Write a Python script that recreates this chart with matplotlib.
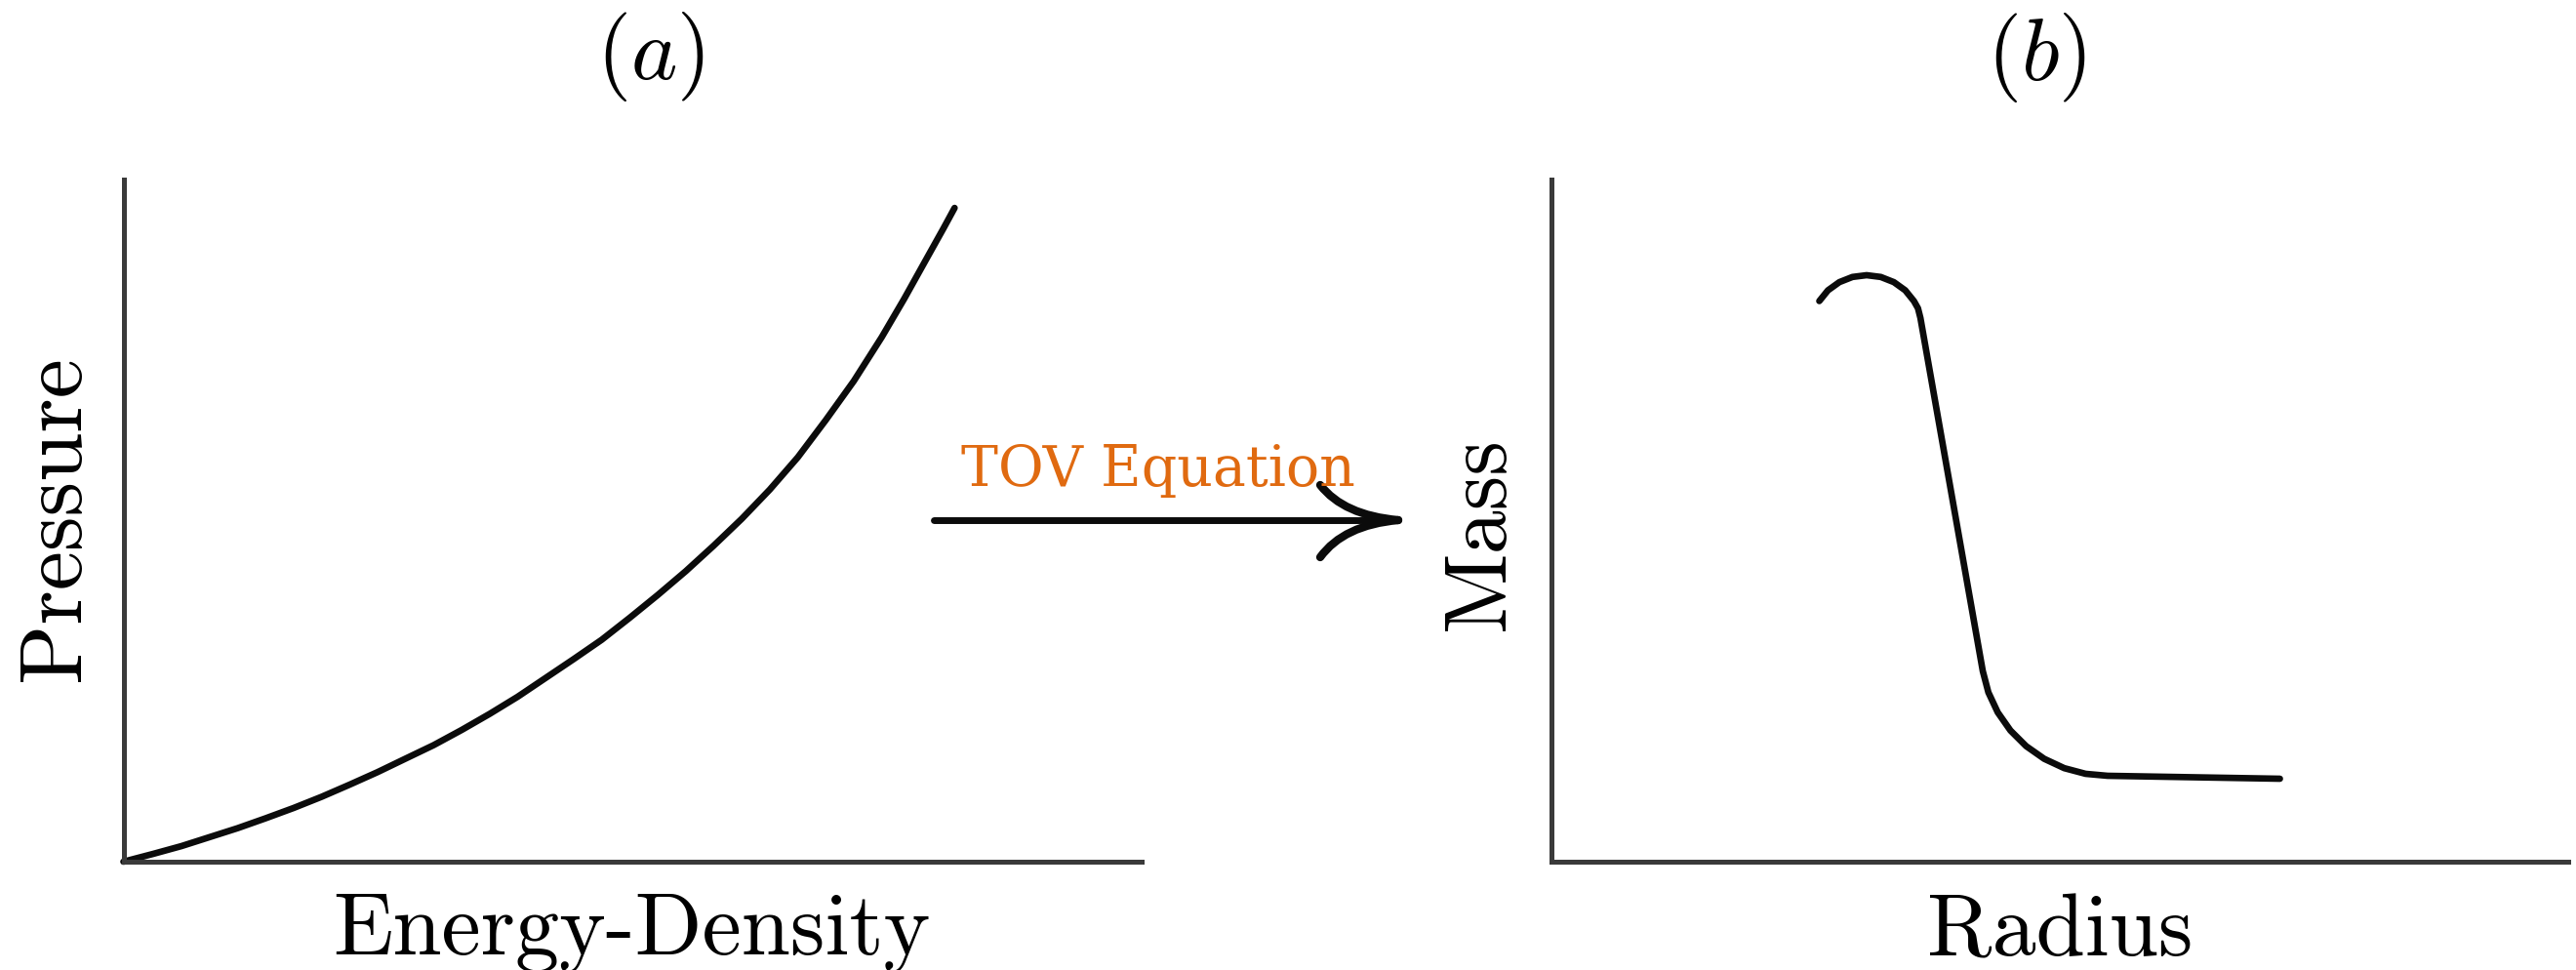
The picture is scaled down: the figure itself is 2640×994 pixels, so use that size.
import matplotlib
matplotlib.use("Agg")
import matplotlib.pyplot as plt
from matplotlib.lines import Line2D
from matplotlib.patches import PathPatch
from matplotlib.path import Path

plt.rcParams["font.family"] = "cmr10"
plt.rcParams["mathtext.fontset"] = "cm"
plt.rcParams["axes.unicode_minus"] = False

W, H = 2640, 994

# equation of state: pressure vs energy density (axes fraction units)
eos_x = [0.0, 0.0296, 0.0571, 0.0846, 0.1121, 0.1396, 0.1671, 0.1946,
         0.2221, 0.2496, 0.2771, 0.3046, 0.3322, 0.3597, 0.3872, 0.4147,
         0.4422, 0.4697, 0.4972, 0.5248, 0.5523, 0.5798, 0.6073, 0.6348,
         0.6623, 0.6898, 0.7173, 0.7448, 0.7667, 0.7888, 0.8053, 0.8163]
eos_y = [0.0, 0.0116, 0.0229, 0.0360, 0.0491, 0.0636, 0.0787, 0.0951,
         0.1129, 0.1313, 0.1511, 0.1708, 0.1931, 0.2167, 0.2418, 0.2694,
         0.2970, 0.3253, 0.3575, 0.3910, 0.4259, 0.4634, 0.5027, 0.5455,
         0.5928, 0.6474, 0.7046, 0.7691, 0.8249, 0.8841, 0.9282, 0.9584]

# mass-radius relation
mr_x = [0.2638, 0.2723, 0.2835, 0.2964, 0.3103, 0.3242, 0.3371, 0.3483,
        0.3568, 0.3608, 0.3632, 0.4245, 0.4300, 0.4392, 0.4517, 0.4671,
        0.4849, 0.5046, 0.5256, 0.5472, 0.7166]
mr_y = [0.8219, 0.8376, 0.8496, 0.8572, 0.8598, 0.8572, 0.8496, 0.8376,
        0.8219, 0.8113, 0.7971, 0.2795, 0.2482, 0.2189, 0.1923, 0.1694,
        0.1508, 0.1371, 0.1288, 0.1259, 0.1216]

panel_titles = [r"$(a)$", r"$(b)$"]
x_labels = ["Energy-Density", "Radius"]
y_labels = ["Pressure", "Mass"]
arrow_label = "TOV Equation"

LABEL_SIZE = 65
SPINE_COLOR = "#3a3a3a"
CURVE_COLOR = "#0b0b0b"


def px(x, y):
    """pixel position (from top-left) -> figure fraction"""
    return x / W, 1 - y / H


fig = plt.figure(figsize=(W / 100, H / 100), dpi=100)

ax_a = fig.add_axes([126.5 / W, 111 / H, 1043.5 / W, 699 / H])
ax_b = fig.add_axes([1589.5 / W, 111 / H, 1042.5 / W, 699 / H])

for ax, xl, yl in zip([ax_a, ax_b], x_labels, y_labels):
    ax.set_xlim(0, 1)
    ax.set_ylim(0, 1)
    ax.set_xticks([])
    ax.set_yticks([])
    for side in ["top", "right"]:
        ax.spines[side].set_visible(False)
    for side in ["left", "bottom"]:
        ax.spines[side].set_linewidth(3.6)
        ax.spines[side].set_color(SPINE_COLOR)
        ax.spines[side].set_capstyle("projecting")
    ax.set_xlabel(xl, fontsize=LABEL_SIZE)
    ax.set_ylabel(yl, fontsize=LABEL_SIZE)

ax_a.xaxis.set_label_coords(0.499, -0.0465)
ax_a.yaxis.set_label_coords(-0.0268, 0.504)
ax_b.xaxis.set_label_coords(0.5, -0.0465)
ax_b.yaxis.set_label_coords(-0.0297, 0.481)

ax_a.plot(eos_x, eos_y, color=CURVE_COLOR, lw=4.8, solid_capstyle="round",
          solid_joinstyle="round", clip_on=False)
ax_b.plot(mr_x, mr_y, color=CURVE_COLOR, lw=4.8, solid_capstyle="round",
          solid_joinstyle="round", clip_on=False)

# panel tags
fig.text(*px(666, 80.5), panel_titles[0], fontsize=LABEL_SIZE,
         ha="center", va="baseline")
fig.text(*px(2087.5, 82), panel_titles[1], fontsize=LABEL_SIZE,
         ha="center", va="baseline")

# arrow between the panels
shaft = Line2D(*zip(px(957, 533), px(1428, 533)), color=CURVE_COLOR, lw=5,
               solid_capstyle="round", transform=fig.transFigure)
fig.add_artist(shaft)
for y0, yc in [(497, 528), (571, 538)]:
    verts = [px(1353, y0), px(1377, yc), px(1433, 533)]
    barb = PathPatch(Path(verts, [Path.MOVETO, Path.CURVE3, Path.CURVE3]),
                     fill=False, edgecolor=CURVE_COLOR, lw=6,
                     capstyle="round", transform=fig.transFigure)
    fig.add_artist(barb)

fig.text(*px(985, 498), arrow_label, fontsize=41, color="#e06a10",
         family="DejaVu Serif", ha="left", va="baseline")

fig.savefig("out.png", dpi=100, facecolor="white")
